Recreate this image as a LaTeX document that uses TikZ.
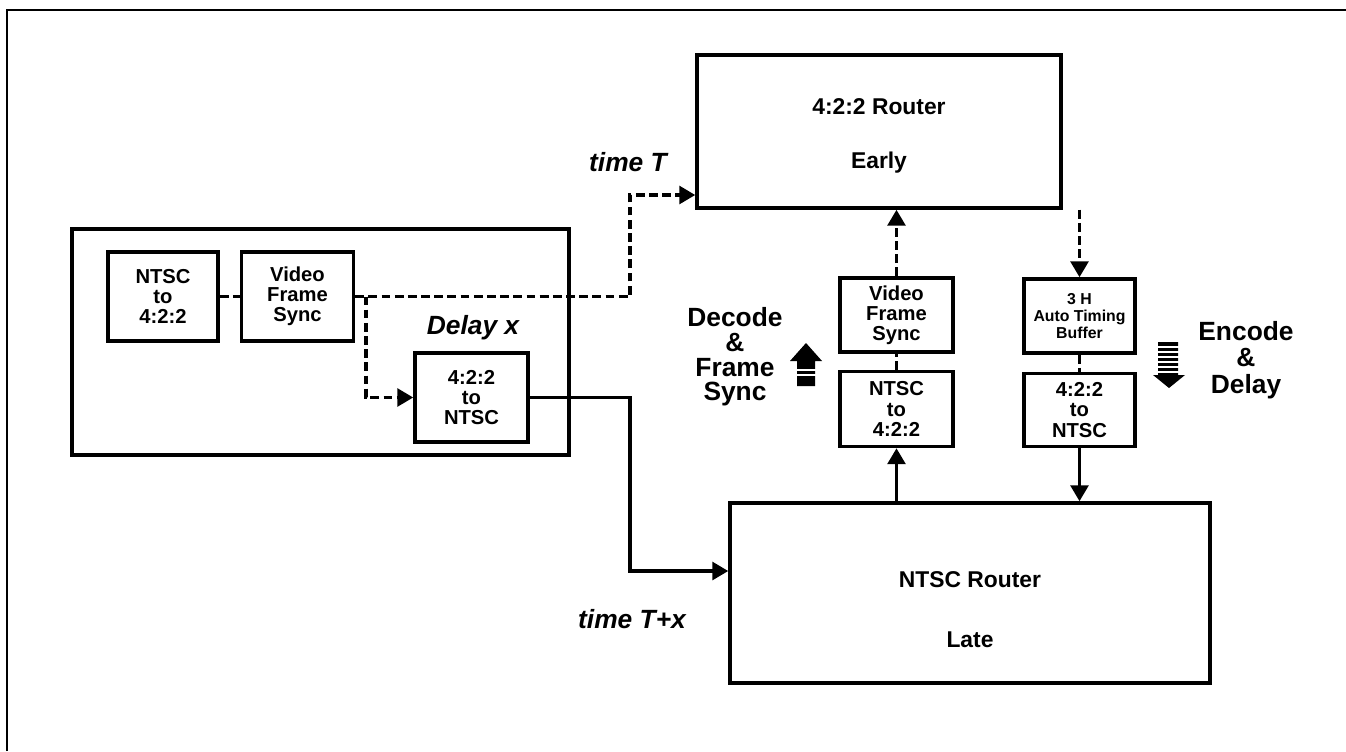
\documentclass[tikz,border=0pt]{standalone}
\usepackage{fontspec}
\setmainfont{Liberation Sans}
\usetikzlibrary{positioning,arrows.meta}

\begin{document}
\begin{tikzpicture}[x=0.02cm, y=-0.02cm,
  node distance=0.4cm and 0.4cm,
  box/.style={rectangle, draw, line width=2pt, align=center, inner sep=0pt,
              minimum width=2.24cm, minimum height=1.78cm,
              font=\bfseries\fontsize{11.5}{11.5}\selectfont},
  router/.style={rectangle, draw, line width=2pt},
  sig/.style={line width=2pt},
  dsig/.style={sig, dash pattern=on 5pt off 2.5pt},
  arr/.style={-{Triangle[length=9pt,width=10pt]}},
  tlbl/.style={font=\bfseries\itshape\fontsize{15}{17}\selectfont},
  rlbl/.style={font=\bfseries\fontsize{13}{14}\selectfont},
  side/.style={align=center, font=\bfseries\fontsize{15}{14}\selectfont}
]
\useasboundingbox (0,0) rectangle (1346,751);
\draw[line width=1.2pt] (7,751) -- (7,10) -- (1346,10);

% delay unit
\node[router, minimum width=9.94cm, minimum height=4.52cm] (delaybox) at (320.5,342) {};
\node[box, minimum width=2.2cm] (lntsc) at (163,296.5) {NTSC\\to\\4:2:2};
\node[box, right=0.4cm of lntsc] (lvfs) {Video\\Frame\\Sync};
\node[box, minimum width=2.26cm] (lenc) at (471.5,397.5) {4:2:2\\to\\NTSC};
\node[tlbl] (delay) at (473,328) {Delay x};

% routers
\node[router, minimum width=7.28cm, minimum height=3.06cm] (early) at (879,131.5) {};
\node[rlbl] (earlyname) at (879,107) {4:2:2 Router};
\node[rlbl] (earlytime) at (879,163) {Early};
\node[router, minimum width=9.6cm, minimum height=3.6cm] (late) at (970,593) {};
\node[rlbl] (latename) at (970,580) {NTSC Router};
\node[rlbl] (latetime) at (970,640) {Late};

% decode column
\node[box, minimum width=2.26cm, minimum height=1.48cm] (mvfs) at (896.5,315) {Video\\Frame\\Sync};
\node[box, minimum width=2.26cm, minimum height=1.5cm, below=0.32cm of mvfs] (mdec) {NTSC\\to\\4:2:2};

% encode column
\node[box, minimum width=2.22cm, minimum height=1.48cm,
      font=\bfseries\fontsize{9}{9.5}\selectfont] (rbuf) at (1079.5,316) {3 H\\Auto Timing\\Buffer};
\node[box, minimum width=2.22cm, minimum height=1.46cm, below=0.34cm of rbuf] (renc) {4:2:2\\to\\NTSC};

\node[side] (dectxt) at (735,357) {Decode\\\&\\Frame\\Sync};
\node[side, font=\bfseries\fontsize{15}{15}\selectfont] (enctxt) at (1246,360) {Encode\\\&\\Delay};
\node[tlbl] (timeT) at (628,162) {time T};
\node[tlbl] (timeTx) at (632,619) {time T+x};

\coordinate (br) at (366,296.5);
\coordinate (tT) at (630,195);
\coordinate (tx) at (630,571);

% connectors
\draw[dsig] (lntsc) -- (lvfs);
\draw[dsig, arr] (lvfs.east) -| (tT) -- (tT -| early.west);
\draw[dsig, arr] (br) |- (lenc.west);
\draw[sig, arr] (lenc.east) -| (tx) -- (tx -| late.west);
\draw[sig, arr] (mdec.south |- late.north) -- (mdec.south);
\draw[dsig] (mdec) -- (mvfs);
\draw[dsig, arr] (mvfs.north) -- (mvfs.north |- early.south);
\draw[dsig, arr] (rbuf.north |- early.south) -- (rbuf.north);
\draw[dsig] (rbuf) -- (renc);
\draw[sig, arr] (renc.south) -- (renc.south |- late.north);

% block arrows
\fill (797,386) -- (797,361) -- (790,361) -- (806,343) -- (822,361) -- (815,361) -- (815,386) -- cycle;
\foreach \yy in {370,375}
  \draw[white, line width=0.8pt] (795,\yy) -- (817,\yy);
\fill (1158,342) -- (1178,342) -- (1178,375) -- (1185,375) -- (1169,388) -- (1153,375) -- (1158,375) -- cycle;
\foreach \yy in {347,352,...,372}
  \draw[white, line width=0.8pt] (1156,\yy) -- (1180,\yy);
\end{tikzpicture}
\end{document}
